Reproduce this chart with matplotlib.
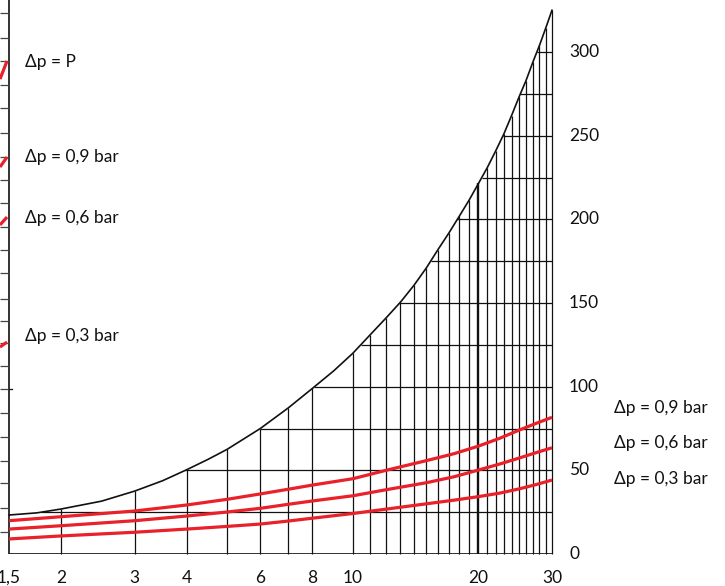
import matplotlib
matplotlib.use('Agg')
import matplotlib.pyplot as plt
import numpy as np

plt.rcParams['font.family'] = ['Lato', 'DejaVu Sans']

# ---- data ----
curve_x = [1.5, 1.75, 2, 2.5, 3, 3.5, 4, 4.5, 5, 6, 7, 8, 9, 10, 11, 12, 13, 14, 15, 16,
           17, 18, 19, 20, 21, 22, 23, 24, 25, 26, 27, 28, 29, 30]
curve_y = [23.3, 24.6, 26.9, 31.6, 37.6, 43.8, 50.4, 56.6, 62.6, 75.0, 87.3, 99.0, 109.5,
           120.0, 131.0, 141.0, 150.5, 160.5, 171.0, 182.0, 192.0, 202.0, 211.6, 221.5,
           231.0, 241.0, 251.0, 262.0, 273.0, 283.0, 294.0, 304.0, 314.5, 325.0]
vline_x = [2, 3, 4, 5, 6, 7, 8, 10, 11, 12, 13, 14, 15, 16, 17, 18, 19, 20,
           21, 22, 23, 24, 25, 26, 27, 28, 29, 30]
bold_vline_x = [20]

x_tick_vals = [1.5, 2, 3, 4, 6, 8, 10, 20, 30]
x_tick_labels = ['1,5', '2', '3', '4', '6', '8', '10', '20', '30']
y_tick_vals = [0, 50, 100, 150, 200, 250, 300]
h_grid_vals = [25, 50, 75, 100, 125, 150, 175, 200, 225, 250, 275, 300]

red_x = [1.5, 2, 3, 4, 5, 6, 7, 8, 10, 12, 15, 17.5, 20, 22.5, 25, 27.5, 30]
red_09 = [19.9, 22.3, 25.7, 29.3, 32.7, 35.9, 38.7, 41.2, 45.0, 50.0, 55.8, 60.0, 64.5,
          69.2, 74.0, 78.1, 81.7]
red_06 = [14.9, 16.9, 19.9, 22.7, 25.1, 27.3, 29.7, 31.7, 34.8, 38.4, 42.6, 46.2, 50.2,
          53.8, 57.3, 60.6, 63.5]
red_03 = [9.0, 10.8, 13.0, 14.9, 16.5, 17.9, 19.7, 21.4, 24.2, 26.8, 30.0, 32.2, 34.3,
          36.4, 38.9, 41.5, 44.2]

right_labels = ['Δp = 0,9 bar', 'Δp = 0,6 bar', 'Δp = 0,3 bar']
right_label_y = [87.3, 66.3, 44.8]
left_labels = ['Δp = P', 'Δp = 0,9 bar', 'Δp = 0,6 bar', 'Δp = 0,3 bar']
left_label_y = [294.1, 237.3, 200.8, 130.3]

# fragments of the neighbouring (cropped) panel on the left
left_stub_y = [323.4, 308.4, 294.7, 280.3, 266.6, 251.6, 237.3, 223.5, 209.8, 195.5,
               181.7, 168.0, 152.4, 139.3, 126.1, 112.3, 98.6, 84.3, 70.0, 55.6, 42.4,
               27.5, 13.1]
frag_x = [1.427, 1.4835]
frag_P = [283.9, 294.7]
frag_09 = [231.3, 237.3]
frag_06 = [196.7, 201.4]
frag_03 = [123.7, 126.7]

# ---- figure ----
W, H = 725, 586
fig = plt.figure(figsize=(W / 100, H / 100), dpi=100)
ax_w_px, ax_h_px = 560, 554
ax = fig.add_axes([0, (H - 554) / H, ax_w_px / W, ax_h_px / H])
ax.set_xscale('log')
x_left = 1.427
x_right = x_left * 10 ** (ax_w_px / 417.3)
ax.set_xlim(x_left, x_right)
y_top = 554 / 1.673
ax.set_ylim(0, y_top)
ax.axis('off')

RED = '#e8212b'
K = '#111111'

def curve_at(x):
    return curve_y[curve_x.index(x)]

# vertical grid lines up to the curve
for xv in vline_x:
    lw = 1.7 if xv in bold_vline_x else 0.9
    ax.plot([xv, xv], [0, curve_at(xv)], color=K, lw=lw, solid_capstyle='butt', clip_on=False)

# horizontal grid lines from the curve to x=30
for hv in h_grid_vals:
    xs = np.interp(hv, curve_y, np.log10(curve_x))
    ax.plot([10 ** xs, 30], [hv, hv], color=K, lw=0.9, solid_capstyle='butt')

# axis lines
ax.plot([1.5, 30], [0, 0], color=K, lw=1.2, solid_capstyle='butt')
ax.plot([1.5, 1.5], [0, y_top], color=K, lw=1.2, solid_capstyle='butt')

# limit curve
ax.plot(curve_x, curve_y, color=K, lw=1.2)

# red curves
for ys in (red_09, red_06, red_03):
    ax.plot(red_x, ys, color=RED, lw=2.3, solid_capstyle='butt')

# left panel fragments
for sy in left_stub_y:
    ax.plot([x_left, 1.5], [sy, sy], color='#444444', lw=0.9, solid_capstyle='butt')
ax.plot([1.5, 1.525], [98.6, 98.6], color=K, lw=0.9)
for ys in (frag_P, frag_09, frag_06, frag_03):
    ax.plot(frag_x, ys, color=RED, lw=2.3, solid_capstyle='butt')

FS = 12.5
# tick labels
for xv, lab in zip(x_tick_vals, x_tick_labels):
    ax.text(xv, -14.3, lab, ha='center', va='center', fontsize=FS, color=K)
x_rlab = x_left * 10 ** (569 / 417.3)
for yv in y_tick_vals:
    ax.text(x_rlab, yv, str(yv), ha='left', va='center', fontsize=FS, color=K)

# annotations
x_llab = x_left * 10 ** (25 / 417.3)
for lab, yv in zip(left_labels, left_label_y):
    ax.text(x_llab, yv, lab, ha='left', va='center', fontsize=FS, color=K)
x_rl = x_left * 10 ** (614 / 417.3)
for lab, yv in zip(right_labels, right_label_y):
    ax.text(x_rl, yv, lab, ha='left', va='center', fontsize=FS, color=K)

fig.savefig('out.png', dpi=100)
